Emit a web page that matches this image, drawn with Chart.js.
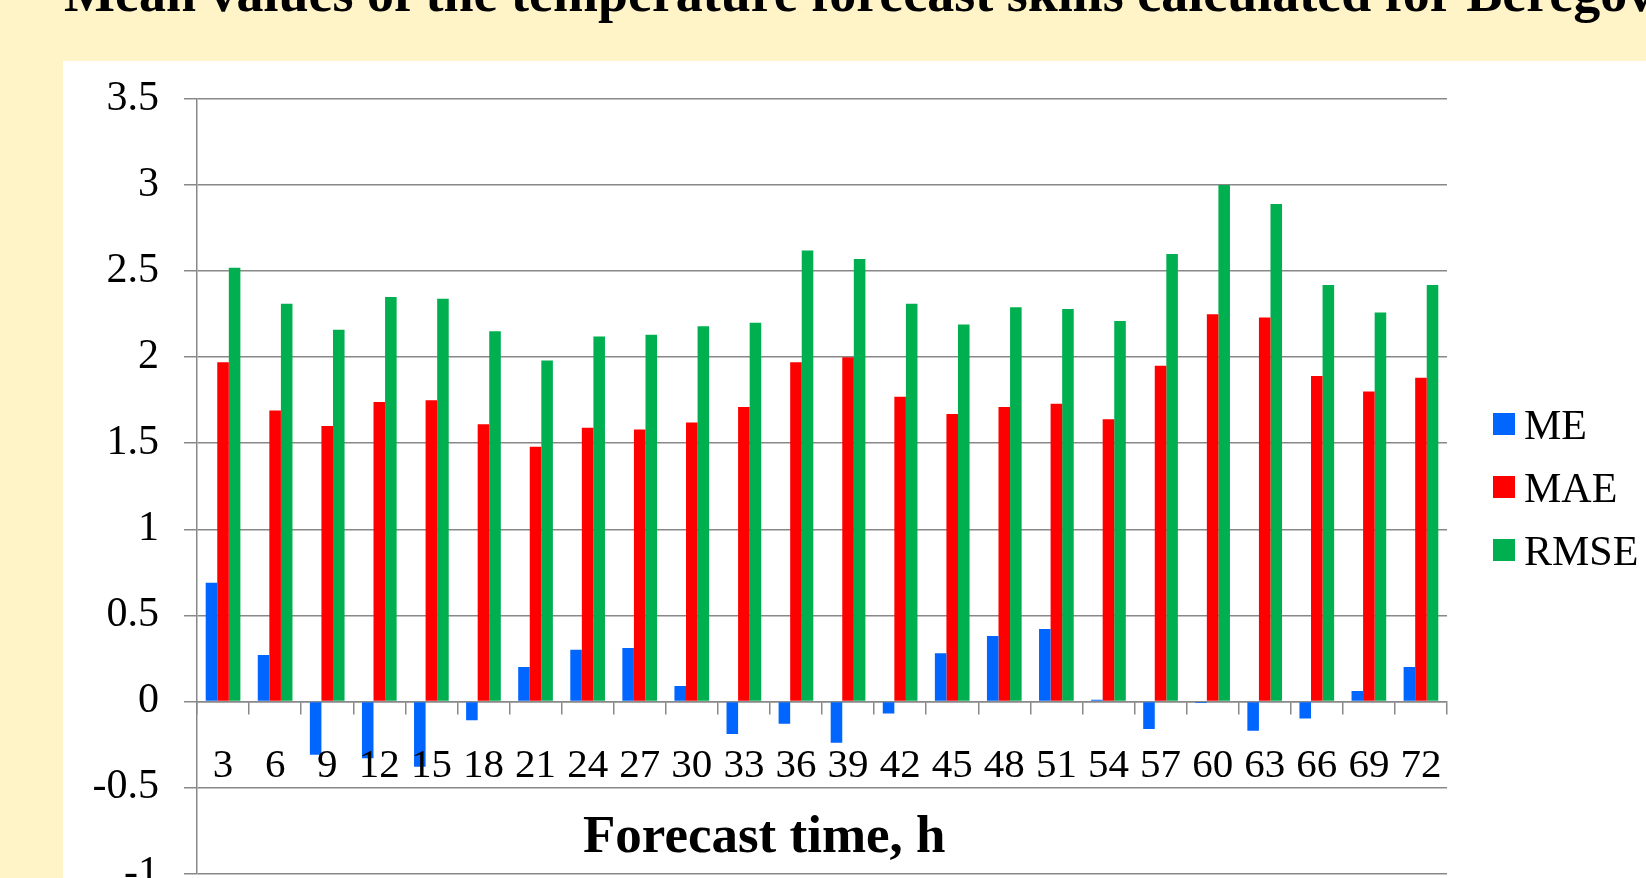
<!DOCTYPE html>
<html>
<head>
<meta charset="utf-8">
<script src="https://cdn.jsdelivr.net/npm/chart.js@4.4.1/dist/chart.umd.min.js"></script>
<style>
  body { margin:0; width:1646px; height:878px; overflow:hidden; background:#FFF4C8; position:relative; font-family:'Liberation Serif','Times New Roman',serif; }
  #slideTitle { position:absolute; left:64px; top:-34px; font-size:54px; line-height:54px; font-weight:bold; white-space:nowrap; color:#000; }
  #panel { position:absolute; left:63px; top:61px; width:1583px; height:900px; background:#fff; }
  #legend { position:absolute; left:1493px; top:404px; }
  .legItem { position:absolute; left:0; width:200px; height:42px; font-size:42px; line-height:42px; color:#000; }
  .legBox { position:absolute; left:0; top:9px; width:22px; height:22px; }
  .legText { position:absolute; left:31px; top:0; white-space:nowrap; }
  #xTitle { position:absolute; left:583px; top:808px; font-size:53px; line-height:53px; font-weight:bold; white-space:nowrap; color:#000; }
</style>
</head>
<body>
<div id="slideTitle">Mean values of the temperature forecast skills calculated for Beregovo</div>
<div id="panel"><canvas id="chartSkills" width="1583" height="900"></canvas></div>
<div id="legend"></div>
<div id="xTitle">Forecast time, h</div>
<script>
// forecast lead times (h)
var forecastHours = ['3','6','9','12','15','18','21','24','27','30','33','36','39','42','45','48','51','54','57','60','63','66','69','72'];

// skill scores
var meValues = [0.69, 0.27, -0.31, -0.33, -0.38, -0.11, 0.20, 0.30, 0.31, 0.09, -0.19, -0.13, -0.24, -0.07, 0.28, 0.38, 0.42, 0.01, -0.16, -0.01, -0.17, -0.10, 0.06, 0.20];
var maeValues = [1.97, 1.69, 1.60, 1.74, 1.75, 1.61, 1.48, 1.59, 1.58, 1.62, 1.71, 1.97, 2.00, 1.77, 1.67, 1.71, 1.73, 1.64, 1.95, 2.25, 2.23, 1.89, 1.80, 1.88];
var rmseValues = [2.52, 2.31, 2.16, 2.35, 2.34, 2.15, 1.98, 2.12, 2.13, 2.18, 2.20, 2.62, 2.57, 2.31, 2.19, 2.29, 2.28, 2.21, 2.60, 3.00, 2.89, 2.42, 2.26, 2.42];

var yTickLabels = ['-1','-0.5','0','0.5','1','1.5','2','2.5','3','3.5'];

window.onload = function() {
  var serif = "'Liberation Serif', 'Times New Roman', serif";
  var axisGray = '#888888';

  var ctx = document.getElementById('chartSkills').getContext('2d');

  var data = {
    labels: forecastHours,
    datasets: [
      { label: 'ME', data: meValues, backgroundColor: '#0066FF' },
      { label: 'MAE', data: maeValues, backgroundColor: '#FF0000' },
      { label: 'RMSE', data: rmseValues, backgroundColor: '#00B050' }
    ]
  };

  var myChart = new Chart(ctx, {
    type: 'bar',
    data: data,
    options: {
      animation: false,
      responsive: false,
      datasets: {
        bar: { categoryPercentage: 0.666, barPercentage: 1.0 }
      },
      layout: {
        padding: { left: 0, right: 199, top: 38, bottom: 87.5 }
      },
      scales: {
        x: {
          position: { y: 0 },
          grid: { drawOnChartArea: false, drawTicks: true, tickLength: 12, color: axisGray, lineWidth: 1.5 },
          border: { display: true, color: axisGray, width: 1.5 },
          ticks: { color: '#000', font: { family: serif, size: 41 }, padding: 28, maxRotation: 0, autoSkip: false, z: 1 }
        },
        y: {
          min: -1,
          max: 3.5,
          grid: { color: axisGray, lineWidth: 1.5, tickLength: 13 },
          border: { display: true, color: axisGray, width: 1.5 },
          ticks: {
            stepSize: 0.5,
            color: '#000',
            font: { family: serif, size: 42 },
            padding: 25,
            callback: function(value, index) { return yTickLabels[index]; }
          },
          afterFit: function(scale) {
            scale.width = 134;
            // labels may hang past the plot edges, like in the slide
            scale.paddingTop = 0;
            scale.paddingBottom = 0;
          }
        }
      },
      plugins: {
        legend: { display: false },
        title: { display: false },
        tooltip: { enabled: false }
      }
    }
  });

  // legend built from the chart datasets
  var legend = document.getElementById('legend');
  myChart.data.datasets.forEach(function(ds, i) {
    var item = document.createElement('div');
    item.className = 'legItem';
    item.style.top = (i * 63) + 'px';
    item.innerHTML = '<div class="legBox" style="background:' + ds.backgroundColor + '"></div><span class="legText">' + ds.label + '</span>';
    legend.appendChild(item);
  });
};
</script>
</body>
</html>
